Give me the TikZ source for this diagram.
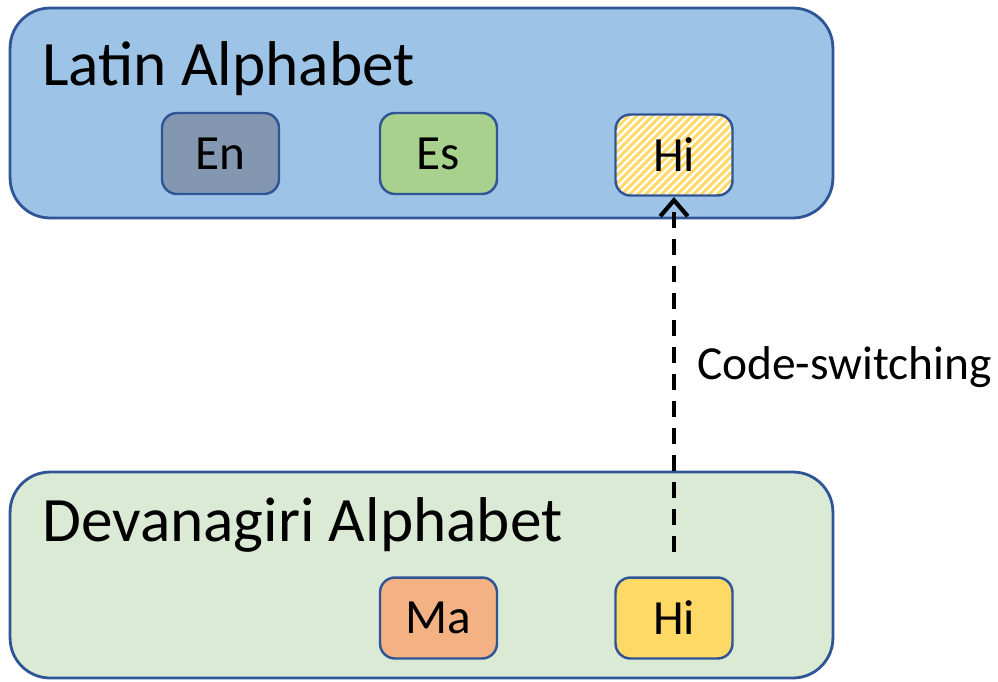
\documentclass[tikz,border=0pt]{standalone}
\usepackage{fontspec}
\setmainfont{Carlito}
\usepackage{xcolor}
\usepackage{tikz}
\usetikzlibrary{arrows.meta, positioning, patterns.meta}

\definecolor{edgeblue}{HTML}{2F5597}
\definecolor{latinfill}{HTML}{9DC3E6}
\definecolor{devfill}{HTML}{DAEAD5}
\definecolor{enfill}{HTML}{8497B0}
\definecolor{esfill}{HTML}{A9D18E}
\definecolor{mafill}{HTML}{F4B183}
\definecolor{hifill}{HTML}{FFD966}

\begin{document}
\begin{tikzpicture}[
    x=0.02cm, y=-0.02cm,
    script/.style={rectangle, rounded corners=0.8cm, draw=edgeblue, line width=1.6pt, minimum width=16.46cm, inner sep=0pt},
    lang/.style={rectangle, rounded corners=0.3cm, draw=edgeblue, line width=1.4pt, minimum width=2.34cm, minimum height=1.62cm, font=\fontsize{28}{32}\selectfont, align=center},
    title/.style={anchor=base west, inner sep=0pt, font=\fontsize{36}{40}\selectfont}
]
\useasboundingbox (0,0) rectangle (998,681);

\node[script, fill=latinfill, minimum height=4.2cm] (latin) at (421.5,113) {};
\node[script, fill=devfill, minimum height=4.12cm] (deva) at (421.5,575) {};

\node[title] (latintitle) at (42,85) {Latin Alphabet};
\node[title] (devatitle) at (42,541) {Devanagiri Alphabet};

\node[lang, fill=enfill] (en) at (220.5,153.5) {En};
\node[lang, fill=esfill] (es) at (438.5,153.5) {Es};
\node[lang, preaction={fill=white}, pattern={Lines[angle=45, distance=3.2pt, line width=1.7pt]}, pattern color=hifill] (hilatin) at (674,155) {Hi};
\node[lang, fill=mafill] (ma) at (438.5,618) {Ma};
\node[lang, fill=hifill] (hideva) at (674,618) {Hi};

% code-switching arrow
\draw[line width=2.4pt, dash pattern=on 0.32cm off 0.22cm, -{Straight Barb[length=0.32cm, width=0.55cm]}]
    ([yshift=0.48cm]hideva.north) -- (hilatin.south)
    node[pos=0.52, right=0.42cm, inner sep=0pt, font=\fontsize{27}{30}\selectfont] (cslabel) {Code-switching};

\end{tikzpicture}
\end{document}
